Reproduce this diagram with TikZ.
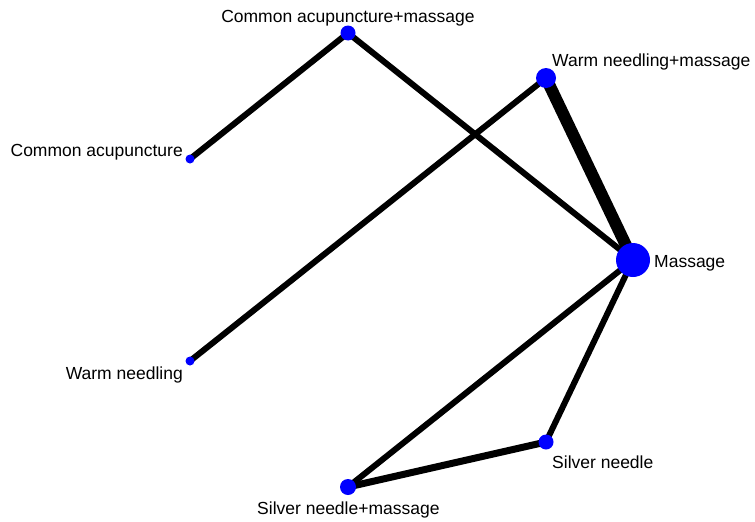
\documentclass[tikz,border=0pt]{standalone}
\usepackage{fontspec}
\setmainfont{Liberation Sans}
\begin{document}
\begin{tikzpicture}[x=1pt,y=-1pt,
  vtx/.style={circle,fill={rgb,255:red,0;green,0;blue,255},inner sep=0pt,draw=none},
  lbl/.style={inner sep=0pt,font=\fontsize{17.5}{20}\selectfont},
  edge/.style={line width=6pt,black}]
\useasboundingbox (0,0) rectangle (755,522);
\coordinate (cam) at (348,33);
\coordinate (wnm) at (546,78);
\coordinate (ca) at (190,159);
\coordinate (wn) at (190,361);
\coordinate (m) at (633,260);
\coordinate (sn) at (546,442);
\coordinate (snm) at (348,487);
\draw[edge] (ca) -- (cam);
\draw[edge] (cam) -- (m);
\draw[edge] (wn) -- (wnm);
\draw[edge,line width=12pt] (wnm) -- (m);
\draw[edge] (m) -- (snm);
\draw[edge] (m) -- (sn);
\draw[edge,line width=7pt] (sn) -- (snm);
\node[vtx,minimum size=15pt] (ncam) at (cam) {};
\node[vtx,minimum size=20pt] (nwnm) at (wnm) {};
\node[vtx,minimum size=9pt] (nca) at (ca) {};
\node[vtx,minimum size=9pt] (nwn) at (wn) {};
\node[vtx,minimum size=34pt] (nm) at (m) {};
\node[vtx,minimum size=15pt] (nsn) at (sn) {};
\node[vtx,minimum size=16pt] (nsnm) at (snm) {};
\node[lbl,anchor=base] (tcam) at (348,23) {Common acupuncture+massage};
\node[lbl,anchor=base west] (twnm) at (552,66) {Warm needling+massage};
\node[lbl,anchor=base west] (tm) at (654,267) {Massage};
\node[lbl,anchor=base east] (tca) at (183,156) {Common acupuncture};
\node[lbl,anchor=base east] (twn) at (183,379) {Warm needling};
\node[lbl,anchor=base west] (tsn) at (552,468) {Silver needle};
\node[lbl,anchor=base west] (tsnm) at (257,514) {Silver needle+massage};
\end{tikzpicture}
\end{document}
